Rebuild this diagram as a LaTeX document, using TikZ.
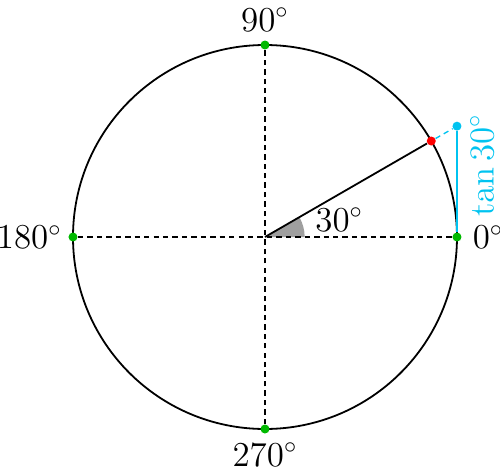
\documentclass[tikz,border=0pt]{standalone}
\usepackage{xcolor}
\usepackage{tikz}
\usetikzlibrary{positioning}

\definecolor{dotgreen}{RGB}{0,185,0}
\definecolor{tanblue}{RGB}{0,195,240}

\begin{document}
\begin{tikzpicture}[
    dot/.style={circle, fill, inner sep=0pt, minimum size=4pt},
    axis/.style={line width=0.6pt, dash pattern=on 2.4pt off 1.8pt},
    rim/.style={line width=0.8pt},
    lbl/.style={font=\Large, scale=1.08}
]
\useasboundingbox (-4.1406,-3.6406) rectangle (3.6719,3.7031);
\coordinate (o) at (0,0);
\draw[rim] (o) circle (3);
\fill[gray!75] (o) -- (0:0.62) arc (0:30:0.62) -- cycle;
\node[dot, dotgreen] (p0) at (0:3) {};
\node[dot, dotgreen] (p90) at (90:3) {};
\node[dot, dotgreen] (p180) at (180:3) {};
\node[dot, dotgreen] (p270) at (270:3) {};
\node[dot, red] (pt) at (30:3) {};
\node[dot, tanblue] (tn) at (3,{3*tan(30)}) {};

\draw[axis] (p180) -- (p0);
\draw[axis] (p270) -- (p90);
\draw[rim] (o) -- (pt);
\draw[tanblue, axis] (pt) -- (tn);
\draw[tanblue, rim] (p0) -- node[lbl, pos=0.66, below, sloped, inner sep=5pt] (ltan) {$\tan 30^\circ$} (tn);

\node[lbl, right=1pt of p0] (l0) {$0^\circ$};
\node[lbl, above=0pt of p90] (l90) {$90^\circ$};
\node[lbl, left=-1pt of p180] (l180) {$180^\circ$};
\node[lbl, below=0pt of p270] (l270) {$270^\circ$};
\node[lbl] (lang) at (1.16,0.27) {$30^\circ$};
\end{tikzpicture}
\end{document}
